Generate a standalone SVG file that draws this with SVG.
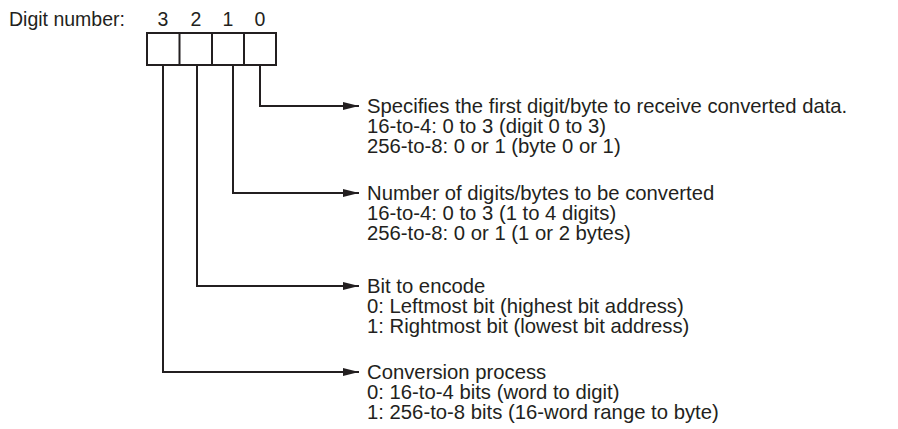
<svg xmlns="http://www.w3.org/2000/svg" width="898" height="429" viewBox="0 0 898 429">
<style>
text{font-family:"Liberation Sans",Arial,sans-serif;font-size:20.3px;fill:#231f20}
.hd{font-size:19.5px}
.ln{fill:none;stroke:#231f20;stroke-width:2}
</style>
<defs>
<marker id="ah" markerUnits="userSpaceOnUse" markerWidth="16" markerHeight="10" refX="16" refY="5" orient="auto">
<path d="M0,1 L16,5 L0,9 Z" fill="#231f20"/>
</marker>
</defs>
<rect width="898" height="429" fill="#fff"/>
<g id="header">
<text class="hd" x="9" y="26">Digit number:</text>
<text class="hd" x="163" y="26" text-anchor="middle">3</text>
<text class="hd" x="196" y="26" text-anchor="middle">2</text>
<text class="hd" x="228" y="26" text-anchor="middle">1</text>
<text class="hd" x="260" y="26" text-anchor="middle">0</text>
</g>
<g id="register">
<rect class="ln" x="147" y="33" width="129" height="32"/>
<line class="ln" x1="179.5" y1="33" x2="179.5" y2="65"/>
<line class="ln" x1="212" y1="33" x2="212" y2="65"/>
<line class="ln" x1="244" y1="33" x2="244" y2="65"/>
</g>
<g id="connectors">
<path class="ln" d="M260,65 V106 H359" marker-end="url(#ah)"/>
<path class="ln" d="M233,65 V193 H359" marker-end="url(#ah)"/>
<path class="ln" d="M197,65 V286 H359" marker-end="url(#ah)"/>
<path class="ln" d="M163,65 V372 H359" marker-end="url(#ah)"/>
</g>
<g id="desc0">
<text x="367" y="113">Specifies the first digit/byte to receive converted data.</text>
<text x="367" y="133">16-to-4: 0 to 3 (digit 0 to 3)</text>
<text x="367" y="153">256-to-8: 0 or 1 (byte 0 or 1)</text>
</g>
<g id="desc1">
<text x="367" y="200">Number of digits/bytes to be converted</text>
<text x="367" y="220">16-to-4: 0 to 3 (1 to 4 digits)</text>
<text x="367" y="240">256-to-8: 0 or 1 (1 or 2 bytes)</text>
</g>
<g id="desc2">
<text x="367" y="293">Bit to encode</text>
<text x="367" y="313">0: Leftmost bit (highest bit address)</text>
<text x="367" y="333">1: Rightmost bit (lowest bit address)</text>
</g>
<g id="desc3">
<text x="367" y="379">Conversion process</text>
<text x="367" y="399">0: 16-to-4 bits (word to digit)</text>
<text x="367" y="419">1: 256-to-8 bits (16-word range to byte)</text>
</g>
</svg>
